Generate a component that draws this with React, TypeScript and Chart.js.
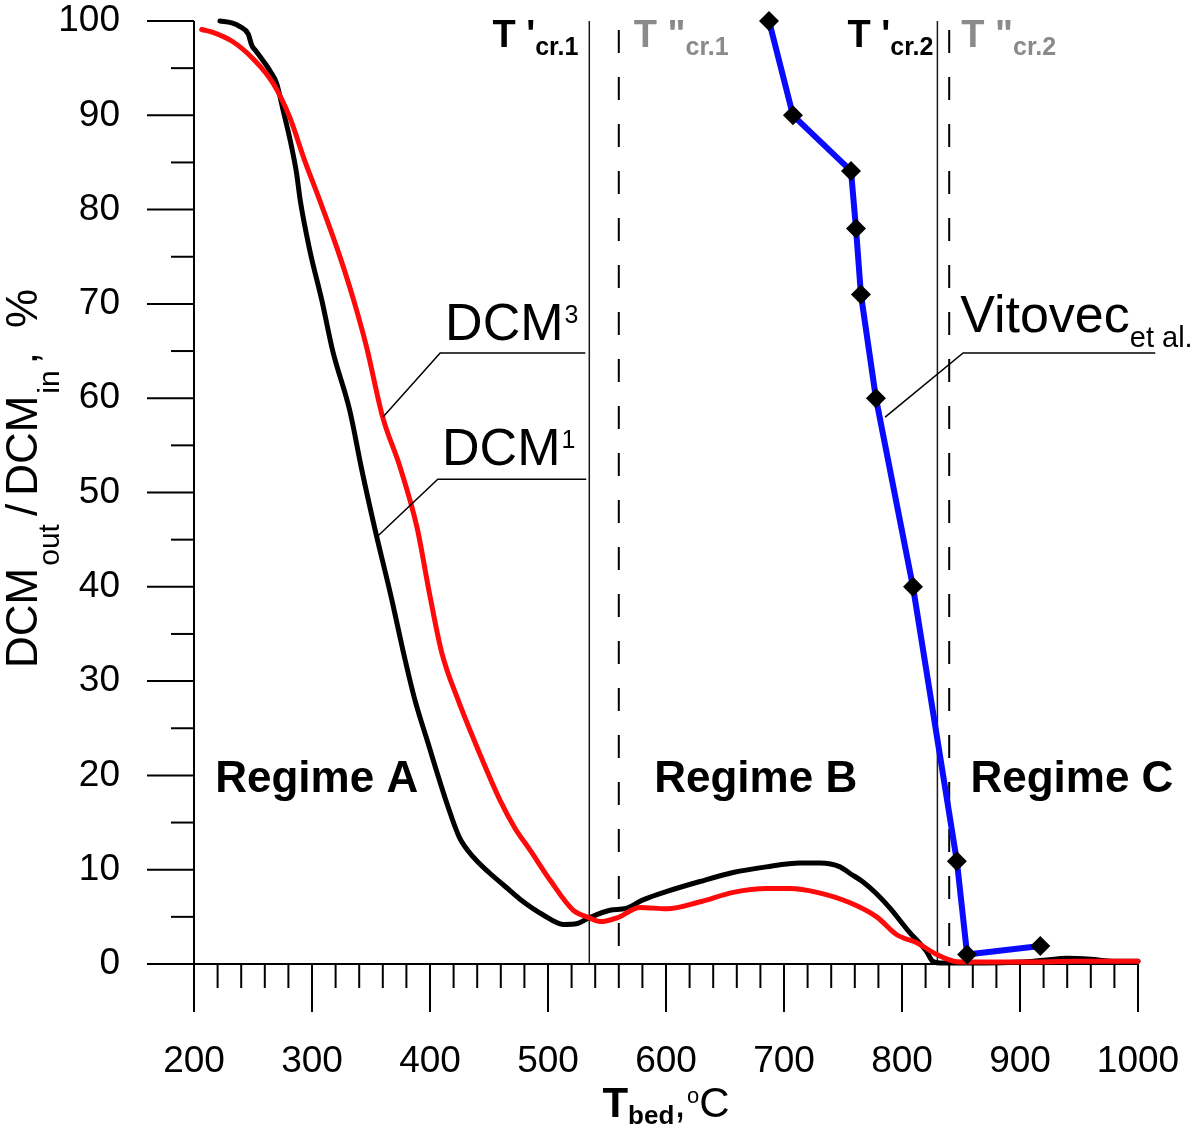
import React, { useEffect, useRef } from "react";
import { Chart, registerables } from "chart.js";

Chart.register(...registerables);

const FONT = '"Liberation Sans", Arial, Helvetica, sans-serif';

// DCM^1 (black) curve
const dcm1X = [222, 232, 239, 246, 249, 252, 258.5, 265, 270, 275.6, 281.6, 287, 290, 298.1, 308.3, 317.6, 332, 342.2, 353.2, 367.7, 377, 387.2, 397.4, 415.2, 425, 437, 450, 463, 476, 496, 513, 525, 535, 552.5, 566, 580.5, 600.8, 628.8, 656.8, 685, 713.6, 730.5, 747.5, 756, 767, 778, 790, 806.8, 815, 821, 826, 835, 870, 900, 920, 940, 960, 980, 1000];
const dcm1Y = [100, 99.8, 99.4, 98.6, 97.4, 96.9, 95.8, 94.6, 93.4, 90.5, 87.3, 83.8, 81.0, 75.7, 70.4, 65.0, 58.7, 52.4, 46.2, 38.6, 33.3, 28.0, 23.8, 16.7, 13.4, 11.3, 9.7, 8.3, 6.9, 5.2, 4.2, 4.3, 4.9, 5.7, 5.9, 6.8, 7.7, 8.75, 9.7, 10.3, 10.7, 10.7, 10.3, 9.6, 8.7, 7.5, 5.9, 3.3, 2.2, 1.3, 0.3, 0.1, 0.1, 0.2, 0.4, 0.6, 0.5, 0.3, 0.3];

// DCM^3 (red) curve
const dcm3X = [206.5, 216, 233, 250, 267, 281.1, 293.8, 306.5, 321.8, 335.3, 346.3, 359.9, 374.6, 389, 400, 410, 423.8, 440.8, 459.2, 472, 484.7, 501.7, 521, 535, 544, 558.5, 578, 600.6, 629, 657, 685.4, 705, 728, 756, 778.6, 795.6, 812.6, 829.6, 846.6, 870, 900, 950, 1000];
const dcm3Y = [99.1, 98.8, 97.8, 96.0, 93.4, 89.8, 85.2, 81.0, 75.7, 70.4, 65.4, 58.0, 52.7, 46.3, 39.0, 33.0, 28.0, 22.7, 17.4, 14.4, 12.1, 8.9, 5.75, 4.9, 4.5, 4.9, 6.0, 5.85, 6.6, 7.6, 8.0, 8.0, 7.6, 6.5, 5.0, 3.1, 2.25, 1.0, 0.25, 0.2, 0.2, 0.3, 0.3];

// Vitovec et al. (blue with diamonds)
const vitX = [687.3, 707.6, 756.8, 761, 765.2, 777.9, 809.3, 846.5, 855.2, 917.2];
const vitY = [100, 90, 84.1, 78, 71, 60, 40, 10.9, 1.0, 1.9];

// Critical temperatures: T'cr.1, T''cr.1, T'cr.2, T''cr.2
const critX = [535, 560, 830, 840];
const critSuffix = ["cr.1", "cr.1", "cr.2", "cr.2"];
const critPrime = ["'", '"', "'", '"'];

const regimeNames = ["Regime A", "Regime B", "Regime C"];
const regimeX = [304, 676, 944];
const regimeY = 18.2;

const X_MIN = 200, X_MAX = 1000, X_STEP = 100, X_MINOR = 20;
const Y_MIN = 0, Y_MAX = 100, Y_STEP = 10, Y_MINOR = 5;

type Run = { t: string; size: number; bold?: boolean; dy?: number; pre?: number };

function font(r: Run) {
  return `${r.bold ? "bold " : ""}${r.size}px ${FONT}`;
}

function drawRuns(ctx: CanvasRenderingContext2D, x: number, y: number, runs: Run[], color: string, align: "left" | "center" | "right" = "left") {
  ctx.textAlign = "left";
  ctx.textBaseline = "alphabetic";
  ctx.fillStyle = color;
  let total = 0;
  for (const r of runs) {
    ctx.font = font(r);
    total += (r.pre || 0) + ctx.measureText(r.t).width;
  }
  let cx = align === "center" ? x - total / 2 : align === "right" ? x - total : x;
  for (const r of runs) {
    ctx.font = font(r);
    cx += r.pre || 0;
    ctx.fillText(r.t, cx, y + (r.dy || 0));
    cx += ctx.measureText(r.t).width;
  }
}

function seg(ctx: CanvasRenderingContext2D, pts: number[][]) {
  ctx.beginPath();
  ctx.moveTo(pts[0][0], pts[0][1]);
  for (let i = 1; i < pts.length; i++) ctx.lineTo(pts[i][0], pts[i][1]);
  ctx.stroke();
}

const overlay = {
  id: "overlay",
  beforeDatasetsDraw(chart: any) {
    const { ctx, scales } = chart;
    const x = scales.x, y = scales.y;
    const x0 = x.getPixelForValue(X_MIN), x1 = x.getPixelForValue(X_MAX);
    const y0 = y.getPixelForValue(Y_MIN), y1 = y.getPixelForValue(Y_MAX);
    ctx.save();
    ctx.strokeStyle = "#000";
    ctx.lineWidth = 2;
    ctx.lineCap = "butt";
    seg(ctx, [[x0, y1], [x0, y0]]);
    seg(ctx, [[x0, y0], [x1, y0]]);
    for (let v = Y_MIN; v <= Y_MAX; v += Y_MINOR) {
      const p = y.getPixelForValue(v);
      const len = v % Y_STEP === 0 ? 47 : 23;
      seg(ctx, [[x0 - len, p], [x0, p]]);
    }
    for (let v = X_MIN; v <= X_MAX; v += X_MINOR) {
      const p = x.getPixelForValue(v);
      const len = v % X_STEP === 0 ? 48 : 24;
      seg(ctx, [[p, y0], [p, y0 + len]]);
    }
    // critical temperature lines
    critX.forEach((cv, i) => {
      const p = x.getPixelForValue(cv);
      if (i % 2 === 0) {
        ctx.setLineDash([]);
        ctx.lineWidth = 1.5;
        ctx.strokeStyle = "#1a1a1a";
      } else {
        ctx.setLineDash([23, 24]);
        ctx.lineDashOffset = 38;
        ctx.lineWidth = 2;
        ctx.strokeStyle = "#000";
      }
      seg(ctx, [[p, y1], [p, y0]]);
    });
    ctx.restore();
  },
  afterDatasetsDraw(chart: any) {
    const { ctx, scales } = chart;
    const x = scales.x, y = scales.y;
    const X = (v: number) => x.getPixelForValue(v);
    const Y = (v: number) => y.getPixelForValue(v);
    ctx.save();

    // critical temperature labels
    const labY = Y(97.2);
    critX.forEach((cv, i) => {
      const p = X(cv);
      const gray = i % 2 === 1;
      const runs: Run[] = [
        { t: "T ", size: 38, bold: true },
        { t: critPrime[i], size: 38, bold: true },
        { t: critSuffix[i], size: 25, bold: true, dy: 8 },
      ];
      const offs = [-11, 15, -4, 12];
      if (gray) drawRuns(ctx, p + offs[i], labY, runs, "#8a8a8a", "left");
      else drawRuns(ctx, p + offs[i], labY, runs, "#000", "right");
    });

    // regime labels
    regimeNames.forEach((n, i) => {
      drawRuns(ctx, X(regimeX[i]), Y(regimeY), [{ t: n, size: 44, bold: true }], "#000", "center");
    });

    // leader lines
    ctx.strokeStyle = "#000";
    ctx.lineWidth = 1.5;
    ctx.setLineDash([]);
    seg(ctx, [[X(360.2), Y(58.0)], [X(408.6), Y(64.8)], [X(531.6), Y(64.8)]]);
    seg(ctx, [[X(355.1), Y(45.3)], [X(406.6), Y(51.4)], [X(532.4), Y(51.4)]]);
    seg(ctx, [[X(785.7), Y(58.0)], [X(851.8), Y(64.8)], [X(1014.6), Y(64.8)]]);

    // series annotations
    drawRuns(ctx, X(412.8), Y(66.2), [{ t: "DCM", size: 52 }, { t: "3", size: 25, dy: -17, pre: 1 }], "#000");
    drawRuns(ctx, X(410.2), Y(52.9), [{ t: "DCM", size: 52 }, { t: "1", size: 25, dy: -17, pre: 1 }], "#000");
    drawRuns(ctx, X(849.3), Y(67.0), [{ t: "Vitovec", size: 52 }, { t: "et al.", size: 29, dy: 15 }], "#000");

    // x-axis title
    const xc = (X(X_MIN) + X(X_MAX)) / 2;
    drawRuns(ctx, xc, Y(0) + 153, [
      { t: "T", size: 42, bold: true },
      { t: "bed", size: 26, bold: true, dy: 7 },
      { t: ",", size: 42 },
      { t: "o", size: 22, dy: -14, pre: 1 },
      { t: "C", size: 42 },
    ], "#000", "center");

    // y-axis title (rotated)
    ctx.translate(37, 668);
    ctx.rotate(-Math.PI / 2);
    drawRuns(ctx, 0, 0, [
      { t: "DCM", size: 44 },
      { t: "out", size: 30, dy: 22, pre: 2 },
      { t: "/", size: 44, pre: 8 },
      { t: "DCM", size: 44, pre: 8 },
      { t: "in", size: 30, dy: 22, pre: 2 },
      { t: ",", size: 44, pre: 6 },
      { t: "%", size: 44, pre: 24 },
    ], "#000", "left");
    ctx.restore();
  },
};

export default function App() {
  const ref = useRef<HTMLCanvasElement | null>(null);
  useEffect(() => {
    if (!ref.current) return;
    const chart = new Chart(ref.current, {
      type: "line",
      data: {
        datasets: [
          {
            label: "Vitovec et al.",
            data: vitX.map((v, i) => ({ x: v, y: vitY[i] })),
            borderColor: "#0a0aff",
            borderWidth: 6,
            pointStyle: "rectRot",
            pointRadius: 10,
            pointBackgroundColor: "#000",
            pointBorderColor: "#000",
            pointBorderWidth: 0,
            tension: 0,
            borderJoinStyle: "round",
            order: 0,
            clip: false,
          },
          {
            label: "DCM3",
            data: dcm3X.map((v, i) => ({ x: v, y: dcm3Y[i] })),
            borderColor: "#ff0a0a",
            borderWidth: 5,
            pointRadius: 0,
            cubicInterpolationMode: "monotone",
            borderJoinStyle: "round",
            borderCapStyle: "round",
            order: 1,
            clip: false,
          },
          {
            label: "DCM1",
            data: dcm1X.map((v, i) => ({ x: v, y: dcm1Y[i] })),
            borderColor: "#000",
            borderWidth: 5,
            pointRadius: 0,
            cubicInterpolationMode: "monotone",
            borderJoinStyle: "round",
            borderCapStyle: "round",
            order: 2,
            clip: false,
          },
        ],
      } as any,
      options: {
        responsive: false,
        animation: false,
        devicePixelRatio: 1,
        events: [],
        layout: { padding: { top: 21, right: 62, left: 0, bottom: 0 } },
        plugins: { legend: { display: false }, tooltip: { enabled: false }, title: { display: false } },
        scales: {
          x: {
            type: "linear",
            min: X_MIN,
            max: X_MAX,
            grid: { display: true, drawOnChartArea: false, drawTicks: true, tickLength: 76, color: "rgba(0,0,0,0)" },
            border: { display: false },
            ticks: { stepSize: X_STEP, padding: 0, color: "#000", maxRotation: 0, autoSkip: false, font: { family: FONT, size: 37 }, callback: (v: any) => String(v) },
            afterFit: (s: any) => { s.height = 168; },
          },
          y: {
            type: "linear",
            min: Y_MIN,
            max: Y_MAX,
            grid: { display: true, drawOnChartArea: false, drawTicks: true, tickLength: 74, color: "rgba(0,0,0,0)" },
            border: { display: false },
            ticks: { stepSize: Y_STEP, padding: 0, color: "#000", font: { family: FONT, size: 37, lineHeight: 1 }, callback: (v: any) => String(v) },
            afterFit: (s: any) => { s.width = 194; },
          },
        },
      } as any,
      plugins: [overlay],
    });
    return () => chart.destroy();
  }, []);
  return (
    <div style={{ position: "absolute", left: 0, top: 0, width: 1200, height: 1132, background: "#fff" }}>
      <canvas ref={ref} width={1200} height={1132} style={{ display: "block", width: 1200, height: 1132 }} />
    </div>
  );
}
